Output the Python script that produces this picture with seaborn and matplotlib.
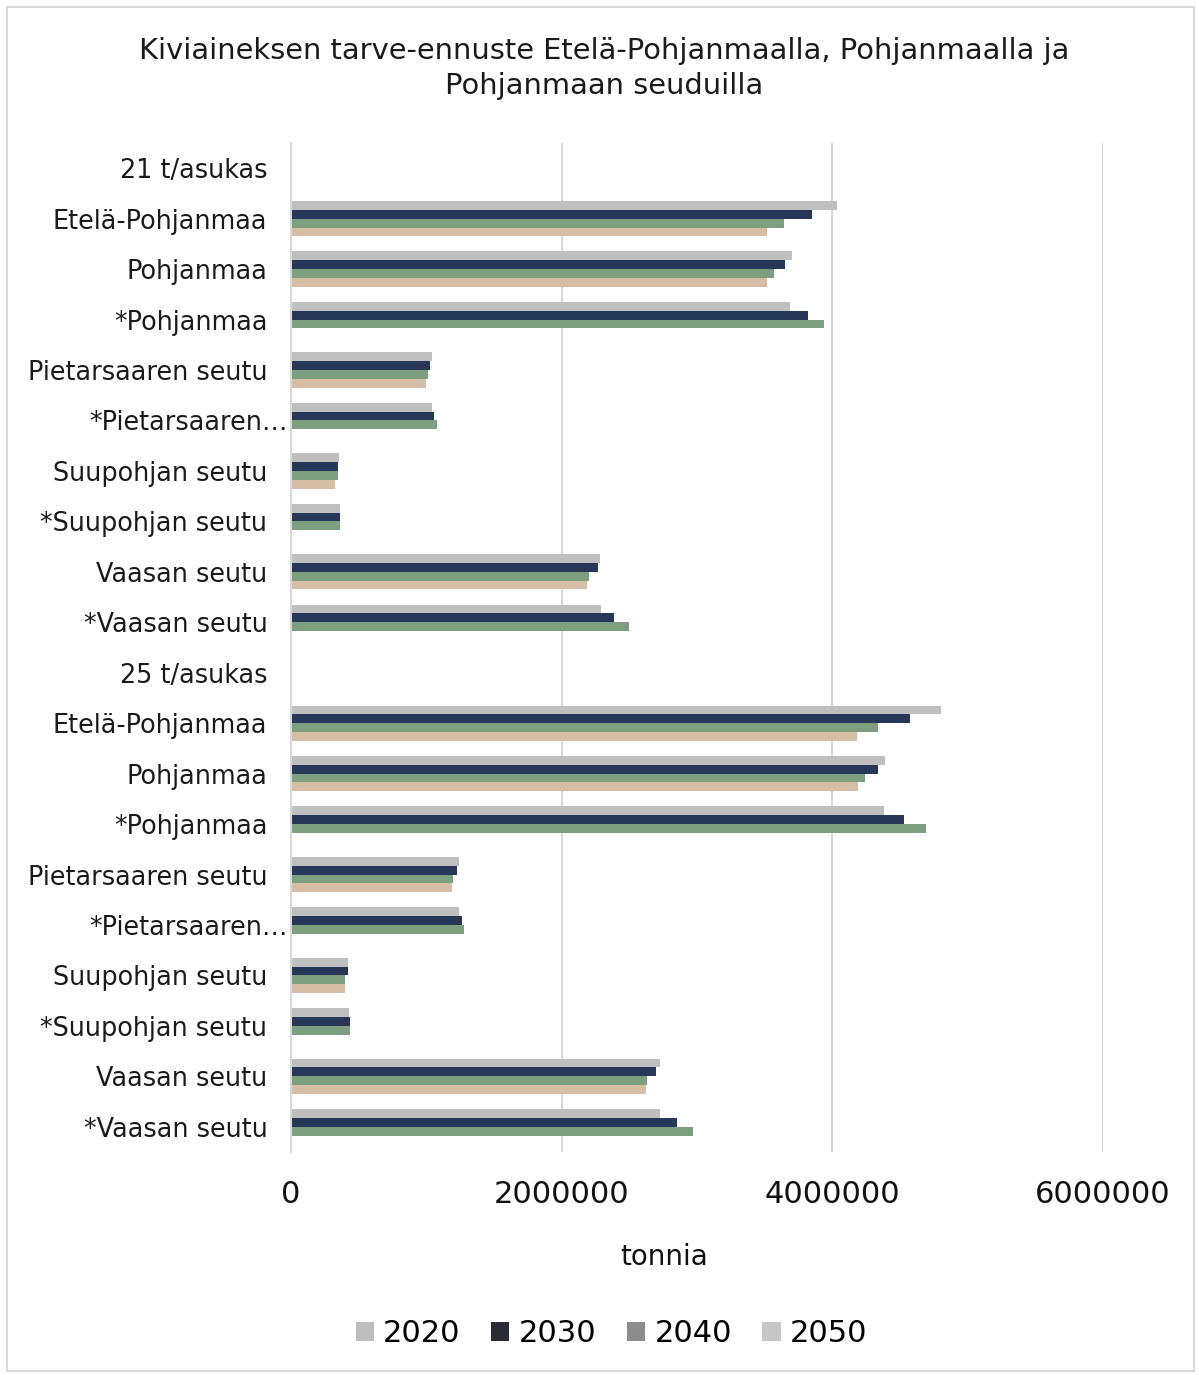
import numpy as np
import pandas as pd
import matplotlib
matplotlib.use("Agg")
import matplotlib.pyplot as plt
import seaborn as sns
from matplotlib.patches import Patch, Rectangle

nan = np.nan

# category labels (top to bottom)
labels = ["21 t/asukas", "Etelä-Pohjanmaa", "Pohjanmaa", "*Pohjanmaa", "Pietarsaaren seutu",
          "*Pietarsaaren…", "Suupohjan seutu", "*Suupohjan seutu", "Vaasan seutu", "*Vaasan seutu",
          "25 t/asukas", "Etelä-Pohjanmaa", "Pohjanmaa", "*Pohjanmaa", "Pietarsaaren seutu",
          "*Pietarsaaren…", "Suupohjan seutu", "*Suupohjan seutu", "Vaasan seutu", "*Vaasan seutu"]
years = ["2020", "2030", "2040", "2050"]

# tonnia
v2020 = [nan, 4035000, 3700000, 3690000, 1040000, 1040000, 355000, 360000, 2280000, 2290000,
         nan, 4800000, 4390000, 4380000, 1240000, 1240000, 420000, 430000, 2730000, 2730000]
v2030 = [nan, 3850000, 3650000, 3820000, 1030000, 1060000, 350000, 360000, 2270000, 2390000,
         nan, 4570000, 4340000, 4530000, 1230000, 1260000, 420000, 435000, 2700000, 2850000]
v2040 = [nan, 3640000, 3570000, 3940000, 1010000, 1080000, 345000, 360000, 2200000, 2500000,
         nan, 4340000, 4240000, 4690000, 1200000, 1280000, 400000, 435000, 2630000, 2970000]
v2050 = [nan, 3520000, 3520000, nan, 1000000, nan, 325000, nan, 2190000, nan,
         nan, 4180000, 4190000, nan, 1190000, nan, 400000, nan, 2620000, nan]

bar_colors = ["#bfbfbf", "#263758", "#7e9e80", "#d6bea6"]
legend_colors = ["#bdbdbd", "#2a2b36", "#8c8c8c", "#c6c6c6"]

keys = [f"r{i}" for i in range(len(labels))]
rows = []
for y, vals in zip(years, [v2020, v2030, v2040, v2050]):
    for k, v in zip(keys, vals):
        rows.append({"kat": k, "vuosi": y, "tonnia": v})
df = pd.DataFrame(rows)

fig = plt.figure(figsize=(11.99, 13.75), dpi=100)
fig.patches.append(Rectangle((0.006, 0.003), 0.99, 0.992, transform=fig.transFigure,
                             fill=False, edgecolor="#d9d9d9", linewidth=1.5))
ax = fig.add_axes([0.2427, 0.1622, 0.9200 - 0.2427, 0.896 - 0.1622])

sns.barplot(data=df, x="tonnia", y="kat", hue="vuosi", order=keys, hue_order=years,
            palette=bar_colors, orient="h", width=0.7, saturation=1, ax=ax,
            legend=False, errorbar=None)

ax.set_xlim(0, 6000000)
ax.set_ylim(len(labels) - 0.5, -0.5)
ax.set_xticks([0, 2000000, 4000000, 6000000])
ax.set_xticklabels(["0", "2000000", "4000000", "6000000"], fontsize=22, color="#111111")
ax.set_yticks(range(len(labels)))
ax.set_yticklabels(labels, fontsize=18.4, color="#1a1a1a")
ax.tick_params(axis="y", length=0, pad=17)
ax.tick_params(axis="x", length=0, pad=20)
ax.xaxis.grid(True, color="#d9d9d9", linewidth=1.5)
ax.set_axisbelow(True)
for s in ["top", "right", "bottom"]:
    ax.spines[s].set_visible(False)
ax.spines["left"].set_color("#d9d9d9")
ax.spines["left"].set_linewidth(1.5)
ax.set_ylabel("")
ax.set_xlabel("tonnia", fontsize=20, color="#111111")
ax.xaxis.set_label_coords(0.459, -0.0905)

for tick, lab in zip(ax.yaxis.get_major_ticks(), labels):
    if lab.endswith("…"):
        tick.set_pad(2)

fig.text(0.504, 0.9505, "Kiviaineksen tarve-ennuste Etelä-Pohjanmaalla, Pohjanmaalla ja\nPohjanmaan seuduilla",
         ha="center", va="center", fontsize=20.8, color="#1a1a1a", linespacing=1.32)

handles = [Patch(facecolor=c, edgecolor="none") for c in legend_colors]
fig.legend(handles, years, loc="center", bbox_to_anchor=(0.51, 0.03), ncol=4, frameon=False,
           fontsize=22, handlelength=0.6, handleheight=0.6, handletextpad=0.3, columnspacing=1.0)

fig.savefig("out.png", dpi=100)
